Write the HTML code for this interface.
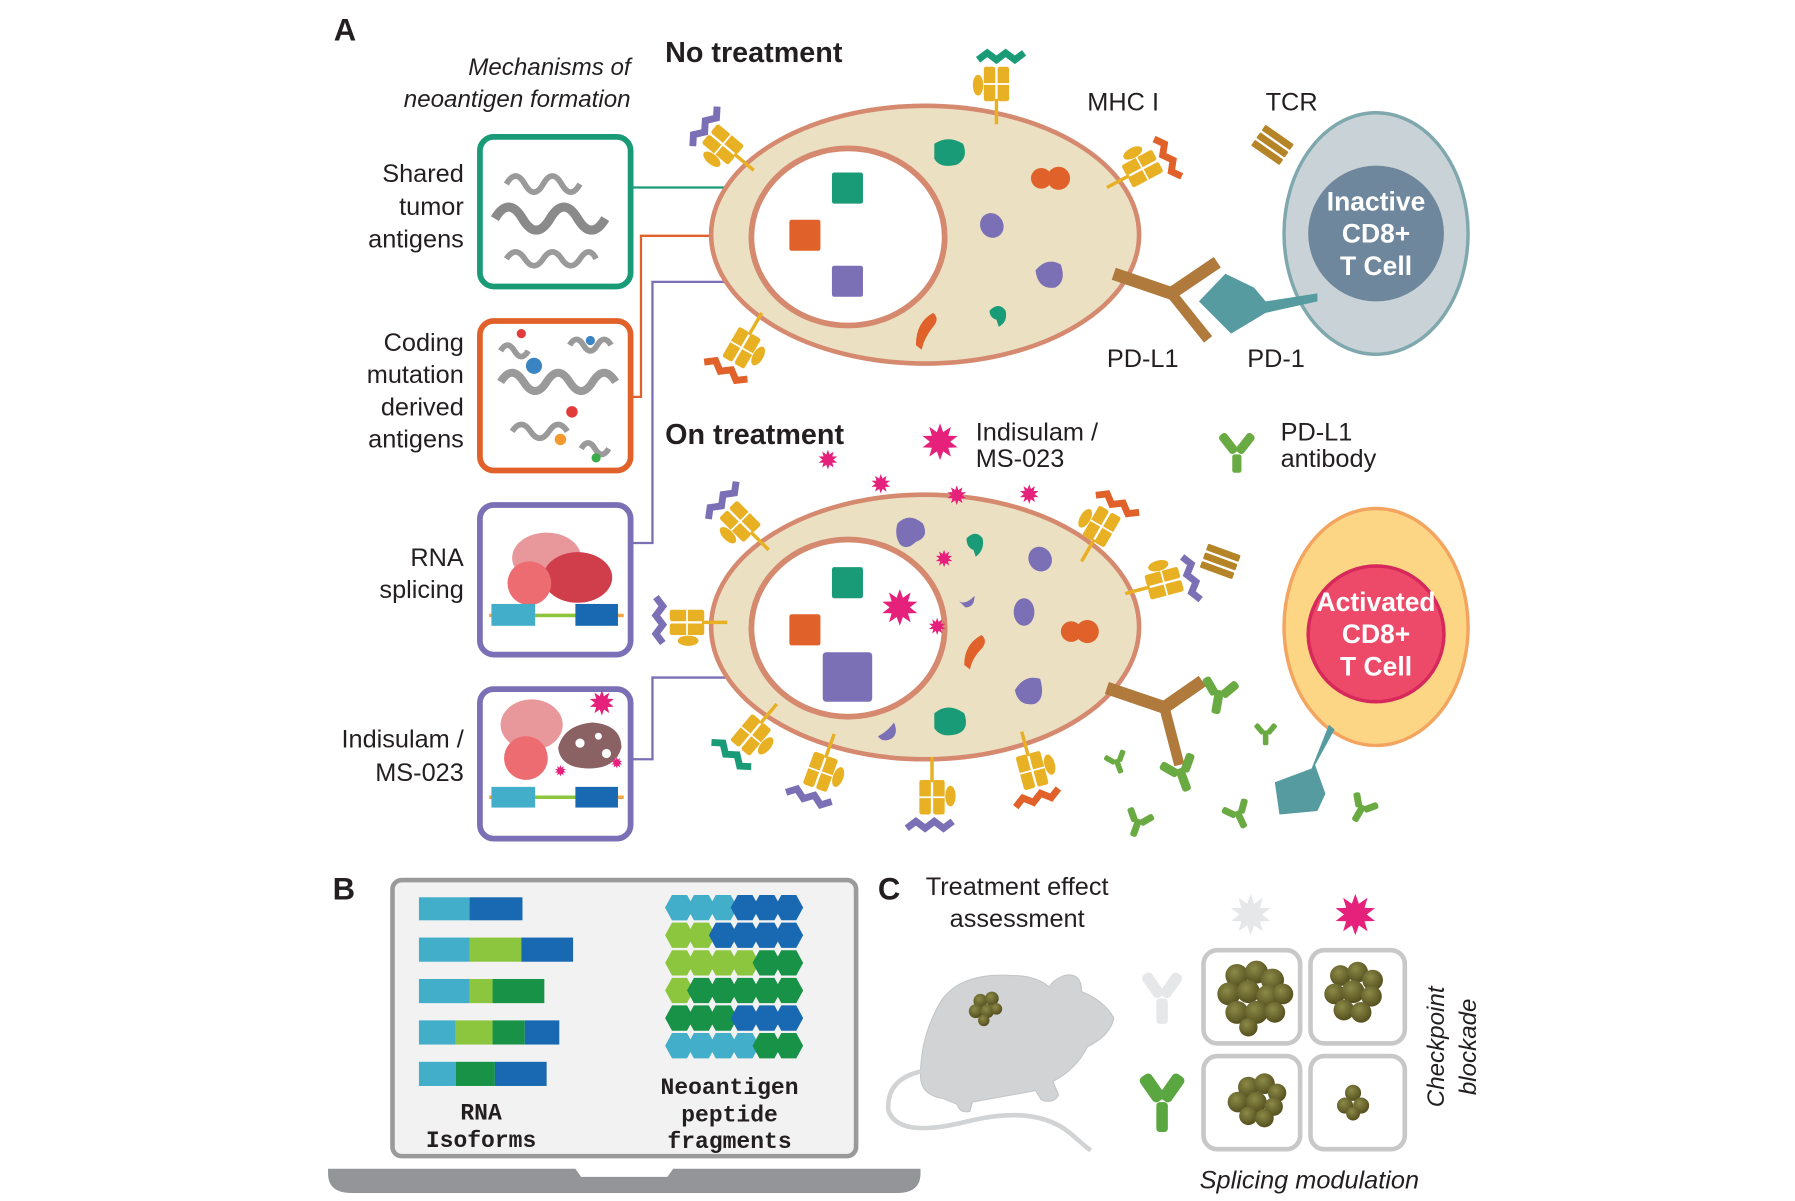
<!DOCTYPE html>
<html><head><meta charset="utf-8"><style>
html,body{margin:0;padding:0;background:#fff;}
svg{display:block;}
text{font-family:"Liberation Sans",Arial,sans-serif;fill:#231f20;}
.m{font-family:"Liberation Mono",monospace;font-weight:bold;}
</style></head><body>
<svg width="1795" height="1201" viewBox="0 0 1560 1044" xmlns="http://www.w3.org/2000/svg">
<defs>
<symbol id="star" viewBox="-1 -1 2 2"><polygon points="0,-1 .17,-.523 .588,-.809 .445,-.323 .951,-.309 .55,0 .951,.309 .445,.323 .588,.809 .17,.523 0,1 -.17,.523 -.588,.809 -.445,.323 -.951,.309 -.55,0 -.951,-.309 -.445,-.323 -.588,-.809 -.17,-.523"/></symbol>
<radialGradient id="tg" cx="40%" cy="35%" r="65%"><stop offset="0" stop-color="#8c8a48"/><stop offset="1" stop-color="#55501f"/></radialGradient>
<g id="mhc">
<line x1="0" y1="0" x2="0" y2="-22" stroke="#e8b023" stroke-width="3"/>
<rect x="-11" y="-50" width="10" height="30" rx="2" fill="#e8b023"/>
<rect x="1" y="-50" width="10" height="30" rx="2" fill="#e8b023"/>
<line x1="-11" y1="-35" x2="11" y2="-35" stroke="#fff" stroke-width="1.5"/>
<ellipse cx="-16" cy="-34" rx="4.5" ry="9" fill="#e8b023"/>
</g>
<g id="ab"><rect x="-3" y="0" width="6" height="16" rx="2"/><rect x="-3" y="-2" width="6" height="13" rx="2" transform="rotate(-40) translate(-4,-10)"/><rect x="-3" y="-2" width="6" height="13" rx="2" transform="rotate(40) translate(4,-10)"/></g>
<g id="tcr"><g fill="#b58426"><rect x="-3" y="-28" width="6" height="30" rx="1"/><rect x="5" y="-28" width="6" height="30" rx="1"/><rect x="13" y="-28" width="6" height="30" rx="1"/></g></g>
</defs>

<!-- Panel A labels -->
<text x="290" y="35" font-size="27" font-weight="bold">A</text>
<text x="548" y="65" font-size="21" font-style="italic" text-anchor="end">Mechanisms of</text>
<text x="548" y="93" font-size="21" font-style="italic" text-anchor="end">neoantigen formation</text>
<text x="578" y="54" font-size="25" font-weight="bold">No treatment</text>
<text x="578" y="386" font-size="25" font-weight="bold">On treatment</text>
<g font-size="22" text-anchor="end">
<text x="403" y="158">Shared</text><text x="403" y="187">tumor</text><text x="403" y="215">antigens</text>
<text x="403" y="305">Coding</text><text x="403" y="333">mutation</text><text x="403" y="361">derived</text><text x="403" y="389">antigens</text>
<text x="403" y="492">RNA</text><text x="403" y="520">splicing</text>
<text x="403" y="650">Indisulam /</text><text x="403" y="679">MS-023</text>
</g>

<!-- boxes -->
<rect x="417" y="119" width="131" height="130" rx="12" fill="#fff" stroke="#1a9b77" stroke-width="5"/>
<rect x="417" y="279" width="131" height="130" rx="12" fill="#fff" stroke="#e0622a" stroke-width="5"/>
<rect x="417" y="439" width="131" height="130" rx="12" fill="#fff" stroke="#7b6fb5" stroke-width="5"/>
<rect x="417" y="599" width="131" height="130" rx="12" fill="#fff" stroke="#7b6fb5" stroke-width="5"/>
<!-- DNA squiggles -->
<g fill="none" stroke="#9a9a9a" stroke-width="5">
<path d="M440,160 q8,-14 16,0 t16,0 t16,0 t16,0"/>
<path d="M430,190 q12,-20 24,0 t24,0 t24,0 t24,0" stroke-width="8" stroke="#8a8a8a"/>
<path d="M440,225 q8,-12 16,0 t16,0 t16,0 t16,0 t14,0"/>
<path d="M435,332 q10,-16 20,0 t20,0 t20,0 t20,0 t20,0" stroke-width="7"/>
<path d="M445,375 q8,-12 16,0 t16,0 t16,0"/>
<path d="M495,300 q6,-10 12,0 t12,0 t12,0"/>
<path d="M435,305 q6,-10 12,0 t12,0"/>
<path d="M505,390 q6,-10 12,0 t12,0"/>
</g>
<circle cx="464" cy="318" r="7" fill="#3b84c4"/><circle cx="497" cy="358" r="5" fill="#e23b3b"/><circle cx="487" cy="382" r="5" fill="#f29a2e"/><circle cx="453" cy="290" r="4" fill="#e23b3b"/><circle cx="513" cy="296" r="4" fill="#3b84c4"/><circle cx="518" cy="398" r="4" fill="#3bab49"/>
<!-- splicing illustrations -->
<ellipse cx="475" cy="485" rx="30" ry="22" fill="#e8979a"/>
<ellipse cx="502" cy="502" rx="30" ry="22" fill="#d03e4b"/>
<circle cx="460" cy="507" r="19" fill="#ec6c72"/>
<line x1="425" y1="535" x2="542" y2="535" stroke="#f2a541" stroke-width="3"/>
<line x1="465" y1="535" x2="500" y2="535" stroke="#8cc63f" stroke-width="3"/>
<rect x="427" y="525" width="38" height="19" fill="#42aec9"/><rect x="500" y="525" width="37" height="19" fill="#1869b1"/>
<ellipse cx="462" cy="630" rx="27" ry="22" fill="#e8979a"/>
<circle cx="457" cy="659" r="19" fill="#ec6c72"/>
<path d="M485,650 q5,-20 30,-22 q25,2 25,22 q-5,18 -28,18 q-25,0 -27,-18z" fill="#8a6264"/>
<circle cx="504" cy="646" r="4" fill="#fff"/><circle cx="520" cy="640" r="3" fill="#fff"/><circle cx="527" cy="655" r="4" fill="#fff"/>
<line x1="425" y1="693" x2="542" y2="693" stroke="#f2a541" stroke-width="3"/>
<line x1="465" y1="693" x2="500" y2="693" stroke="#8cc63f" stroke-width="3"/>
<rect x="427" y="684" width="38" height="18" fill="#42aec9"/><rect x="500" y="684" width="37" height="18" fill="#1869b1"/>
<g fill="#e5217c"><use href="#star" x="512" y="600" width="22" height="22"/><use href="#star" x="482" y="665" width="10" height="10"/><use href="#star" x="531" y="658" width="10" height="10"/></g>

<!-- connector lines -->
<g fill="none" stroke-width="2">
<path d="M549,163 H723" stroke="#1a9b77"/>
<path d="M549,345 H557 V205 H686" stroke="#e0622a"/>
<path d="M549,472 H567 V245 H723" stroke="#7b6fb5"/>
<path d="M549,660 H567 V589 H715" stroke="#7b6fb5"/>
</g>

<!-- Top cell -->
<ellipse cx="804" cy="204" rx="186" ry="112" fill="#ebe0c2" stroke="#d5896f" stroke-width="4"/>
<ellipse cx="737" cy="206" rx="84" ry="77" fill="#fff" stroke="#d5896f" stroke-width="5"/>
<rect x="723" y="150" width="27" height="27" rx="2" fill="#1a9b77"/>
<rect x="686" y="191" width="27" height="27" rx="2" fill="#e0622a"/>
<rect x="723" y="231" width="27" height="27" rx="2" fill="#7b6fb5"/>
<path d="M812,125 q12,-8 25,0 q5,12 -5,18 q-15,4 -20,-5z" fill="#1a9b77"/>
<circle cx="905" cy="155" r="9" fill="#e0622a"/><circle cx="920" cy="155" r="10" fill="#e0622a"/>
<ellipse cx="862" cy="196" rx="10" ry="11" fill="#7b6fb5" transform="rotate(-30 862 196)"/>
<path d="M900,235 q10,-12 22,-5 q5,15 -5,20 q-15,2 -17,-15z" fill="#7b6fb5"/>
<path d="M860,270 q8,-8 14,0 q2,10 -6,14 l-2,-6 q-6,-2 -6,-8z" fill="#1a9b77"/>
<path d="M796,300 q0,-20 15,-28 q6,5 0,12 q-8,10 -10,20z" fill="#e0622a"/>
<!-- MHC top cell -->
<g transform="translate(655,148) rotate(-50)"><use href="#mhc"/><polyline points="-18,-54 -10,-60 -2,-54 6,-60 14,-54 22,-60" fill="none" stroke="#7b6fb5" stroke-width="6"/></g>
<g transform="translate(866,108) rotate(0)"><use href="#mhc"/><polyline points="-16,-56 -8,-62 0,-56 8,-62 16,-56 24,-62" fill="none" stroke="#1a9b77" stroke-width="6"/></g>
<g transform="translate(962,163) rotate(62)"><use href="#mhc"/><polyline points="-18,-56 -10,-62 -2,-56 6,-62 14,-56 22,-62" fill="none" stroke="#e0622a" stroke-width="6"/></g>
<g transform="translate(662,272) rotate(-150)"><use href="#mhc"/><polyline points="-18,-56 -10,-62 -2,-56 6,-62 14,-56 22,-62" fill="none" stroke="#e0622a" stroke-width="6"/></g>
<g transform="translate(1112,140) rotate(-55)"><use href="#tcr"/></g>
<text x="945" y="96" font-size="22">MHC I</text>
<text x="1100" y="96" font-size="22">TCR</text>
<text x="962" y="319" font-size="22">PD-L1</text>
<text x="1084" y="319" font-size="22">PD-1</text>
<!-- PD-L1 -->
<path d="M968,238 L1018,255 L1058,228" fill="none" stroke="#b07a3c" stroke-width="11" stroke-linejoin="round"/>
<path d="M1018,255 L1050,295" stroke="#b07a3c" stroke-width="9"/>
<!-- Inactive T cell -->
<ellipse cx="1196" cy="203" rx="80" ry="105" fill="#c9d2d6" stroke="#7ea8ad" stroke-width="3"/>
<circle cx="1196" cy="203" r="59" fill="#6f879c"/>
<path d="M1042,262 L1065,238 L1090,250 L1100,262 L1145,255 L1145,262 L1100,272 L1070,290 Z" fill="#569ba0"/>
<g font-size="23" font-weight="bold" text-anchor="middle" style="fill:#fff"><text x="1196" y="183" style="fill:#fff">Inactive</text><text x="1196" y="211" style="fill:#fff">CD8+</text><text x="1196" y="239" style="fill:#fff">T Cell</text></g>

<!-- legend -->
<use href="#star" x="801" y="368" width="32" height="32" fill="#e5217c"/>
<text x="848" y="383" font-size="22">Indisulam /</text><text x="848" y="406" font-size="22">MS-023</text>
<g transform="translate(1075,395)" fill="#6aaa42"><rect x="-4" y="0" width="8" height="16" rx="2"/><rect x="-4" y="-22" width="8" height="20" rx="3" transform="rotate(-38)"/><rect x="-4" y="-22" width="8" height="20" rx="3" transform="rotate(38)"/></g>
<text x="1113" y="383" font-size="22">PD-L1</text><text x="1113" y="406" font-size="22">antibody</text>

<!-- Bottom cell -->
<ellipse cx="804" cy="545" rx="186" ry="115" fill="#ebe0c2" stroke="#d5896f" stroke-width="4"/>
<ellipse cx="737" cy="546" rx="84" ry="77" fill="#fff" stroke="#d5896f" stroke-width="5"/>
<rect x="723" y="493" width="27" height="27" rx="2" fill="#1a9b77"/>
<rect x="686" y="534" width="27" height="27" rx="2" fill="#e0622a"/>
<rect x="715" y="567" width="43" height="43" rx="3" fill="#7b6fb5"/>
<g fill="#e5217c">
<use href="#star" x="766" y="512" width="32" height="32"/><use href="#star" x="807" y="537" width="15" height="15"/>
<use href="#star" x="813" y="478" width="15" height="15"/>
<use href="#star" x="711" y="391" width="17" height="17"/><use href="#star" x="757" y="412" width="17" height="17"/><use href="#star" x="823" y="422" width="17" height="17"/><use href="#star" x="886" y="421" width="17" height="17"/>
</g>
<path d="M780,455 q10,-10 22,0 q6,12 -6,16 q-8,8 -14,2 q-5,-8 -2,-18z" fill="#7b6fb5"/>
<path d="M840,468 q8,-8 14,0 q2,10 -6,16 l-2,-6 q-6,-2 -6,-10z" fill="#1a9b77"/>
<ellipse cx="904" cy="486" rx="10" ry="11" fill="#7b6fb5" transform="rotate(-30 904 486)"/>
<path d="M833,522 q5,5 14,-4 q0,10 -8,10z" fill="#7b6fb5"/>
<ellipse cx="890" cy="532" rx="9" ry="12" fill="#7b6fb5"/>
<circle cx="931" cy="549" r="9" fill="#e0622a"/><circle cx="945" cy="549" r="10" fill="#e0622a"/>
<path d="M838,578 q0,-18 15,-26 q6,5 0,12 q-8,8 -10,18z" fill="#e0622a"/>
<path d="M882,600 q8,-14 22,-10 q5,18 -5,22 q-14,2 -17,-12z" fill="#7b6fb5"/>
<path d="M812,620 q12,-10 26,0 q5,14 -6,18 q-14,4 -20,-5z" fill="#1a9b77"/>
<path d="M763,640 q8,-4 14,-12 q4,10 -2,14 q-8,4 -12,-2z" fill="#7b6fb5"/>
<!-- MHC bottom -->
<g transform="translate(668,478) rotate(-45)"><use href="#mhc"/><polyline points="-18,-56 -10,-62 -2,-56 6,-62 14,-56 22,-62" fill="none" stroke="#7b6fb5" stroke-width="6"/></g>
<g transform="translate(940,488) rotate(30)"><use href="#mhc"/><polyline points="-18,-56 -10,-62 -2,-56 6,-62 14,-56 22,-62" fill="none" stroke="#e0622a" stroke-width="6"/></g>
<g transform="translate(632,541) rotate(-90)"><use href="#mhc"/><polyline points="-18,-56 -10,-62 -2,-56 6,-62 14,-56 22,-62" fill="none" stroke="#7b6fb5" stroke-width="6"/></g>
<g transform="translate(978,516) rotate(75)"><use href="#mhc"/><polyline points="-18,-56 -10,-62 -2,-56 6,-62 14,-56 22,-62" fill="none" stroke="#7b6fb5" stroke-width="6"/></g>
<g transform="translate(1070,500) rotate(-70)"><use href="#tcr"/></g>
<g transform="translate(675,612) rotate(-140)"><use href="#mhc"/><polyline points="-18,-56 -10,-62 -2,-56 6,-62 14,-56 22,-62" fill="none" stroke="#1a9b77" stroke-width="6"/></g>
<g transform="translate(725,638) rotate(-160)"><use href="#mhc"/><polyline points="-18,-56 -10,-62 -2,-56 6,-62 14,-56 22,-62" fill="none" stroke="#7b6fb5" stroke-width="6"/></g>
<g transform="translate(810,658) rotate(180)"><use href="#mhc"/><polyline points="-18,-56 -10,-62 -2,-56 6,-62 14,-56 22,-62" fill="none" stroke="#7b6fb5" stroke-width="6"/></g>
<g transform="translate(888,636) rotate(165)"><use href="#mhc"/><polyline points="-18,-56 -10,-62 -2,-56 6,-62 14,-56 22,-62" fill="none" stroke="#e0622a" stroke-width="6"/></g>
<!-- PD-L1 bottom -->
<path d="M962,598 L1012,615 L1045,592" fill="none" stroke="#b07a3c" stroke-width="11" stroke-linejoin="round"/>
<path d="M1012,615 L1025,665" stroke="#b07a3c" stroke-width="9"/>
<!-- Activated T cell -->
<ellipse cx="1196" cy="545" rx="80" ry="103" fill="#fdd685" stroke="#f3a560" stroke-width="3"/>
<circle cx="1196" cy="551" r="59" fill="#ec4a68" stroke="#d6285a" stroke-width="3"/>
<g font-size="23" font-weight="bold" text-anchor="middle"><text x="1196" y="531" style="fill:#fff">Activated</text><text x="1196" y="559" style="fill:#fff">CD8+</text><text x="1196" y="587" style="fill:#fff">T Cell</text></g>
<path d="M1160,634 L1143,665 L1152,690 L1145,705 L1112,708 L1108,680 L1140,668 L1155,630Z" fill="#569ba0"/>
<!-- antibodies -->
<g fill="#6aaa42">
<use href="#ab" transform="translate(1060,600) rotate(10) scale(1.3)"/>
<use href="#ab" transform="translate(1100,635) scale(0.8)"/>
<use href="#ab" transform="translate(970,660) rotate(-20) scale(0.8)"/>
<use href="#ab" transform="translate(1025,668) rotate(-20) scale(1.3)"/>
<use href="#ab" transform="translate(990,712) rotate(20) scale(1)"/>
<use href="#ab" transform="translate(1075,705) rotate(-25) scale(1)"/>
<use href="#ab" transform="translate(1185,700) rotate(30) scale(1)"/>
</g>

<!-- Panel B -->
<text x="289" y="782" font-size="27" font-weight="bold">B</text>
<rect x="341" y="765" width="403" height="240" rx="8" fill="#f2f2f2" stroke="#9a9a9a" stroke-width="4"/>
<path d="M285,1016 H500 L505,1023 H580 L585,1016 H800 V1020 Q800,1037 780,1037 H305 Q285,1037 285,1020Z" fill="#939598"/>
<g>
<rect x="364" y="780" width="44" height="20" fill="#42aec9"/><rect x="408" y="780" width="46" height="20" fill="#1869b1"/>
<rect x="364" y="815" width="44" height="21" fill="#42aec9"/><rect x="408" y="815" width="45" height="21" fill="#8cc63f"/><rect x="453" y="815" width="45" height="21" fill="#1869b1"/>
<rect x="364" y="851" width="44" height="21" fill="#42aec9"/><rect x="408" y="851" width="20" height="21" fill="#8cc63f"/><rect x="428" y="851" width="45" height="21" fill="#179247"/>
<rect x="364" y="887" width="32" height="21" fill="#42aec9"/><rect x="396" y="887" width="32" height="21" fill="#8cc63f"/><rect x="428" y="887" width="28" height="21" fill="#179247"/><rect x="456" y="887" width="30" height="21" fill="#1869b1"/>
<rect x="364" y="923" width="32" height="21" fill="#42aec9"/><rect x="396" y="923" width="34" height="21" fill="#179247"/><rect x="430" y="923" width="45" height="21" fill="#1869b1"/>
</g>
<g>
<g transform="translate(0,789)"><polygon points="578,0 584,-11 597,-11 603,0 597,11 584,11" fill="#42aec9"/></g>
</g>
<g id="hexes"></g>
<!-- hex rows built with rects of hex shape -->
<g>
<!-- row helper via paths -->
<path d="M578,789 l6,-11 h13 l6,11 l-6,11 h-13z M597,789 l6,-11 h13 l6,11 l-6,11 h-13z M616,789 l6,-11 h13 l6,11 l-6,11 h-13z" fill="#42aec9"/>
<path d="M635,789 l6,-11 h13 l6,11 l-6,11 h-13z M654,789 l6,-11 h13 l6,11 l-6,11 h-13z M673,789 l6,-11 h13 l6,11 l-6,11 h-13z" fill="#1869b1"/>
<path d="M578,813 l6,-11 h13 l6,11 l-6,11 h-13z M597,813 l6,-11 h13 l6,11 l-6,11 h-13z" fill="#8cc63f"/>
<path d="M616,813 l6,-11 h13 l6,11 l-6,11 h-13z M635,813 l6,-11 h13 l6,11 l-6,11 h-13z M654,813 l6,-11 h13 l6,11 l-6,11 h-13z M673,813 l6,-11 h13 l6,11 l-6,11 h-13z" fill="#1869b1"/>
<path d="M578,837 l6,-11 h13 l6,11 l-6,11 h-13z M597,837 l6,-11 h13 l6,11 l-6,11 h-13z M616,837 l6,-11 h13 l6,11 l-6,11 h-13z M635,837 l6,-11 h13 l6,11 l-6,11 h-13z" fill="#8cc63f"/>
<path d="M654,837 l6,-11 h13 l6,11 l-6,11 h-13z M673,837 l6,-11 h13 l6,11 l-6,11 h-13z" fill="#179247"/>
<path d="M578,861 l6,-11 h13 l6,11 l-6,11 h-13z" fill="#8cc63f"/>
<path d="M597,861 l6,-11 h13 l6,11 l-6,11 h-13z M616,861 l6,-11 h13 l6,11 l-6,11 h-13z M635,861 l6,-11 h13 l6,11 l-6,11 h-13z M654,861 l6,-11 h13 l6,11 l-6,11 h-13z M673,861 l6,-11 h13 l6,11 l-6,11 h-13z" fill="#179247"/>
<path d="M578,885 l6,-11 h13 l6,11 l-6,11 h-13z M597,885 l6,-11 h13 l6,11 l-6,11 h-13z M616,885 l6,-11 h13 l6,11 l-6,11 h-13z" fill="#179247"/>
<path d="M635,885 l6,-11 h13 l6,11 l-6,11 h-13z M654,885 l6,-11 h13 l6,11 l-6,11 h-13z M673,885 l6,-11 h13 l6,11 l-6,11 h-13z" fill="#1869b1"/>
<path d="M578,909 l6,-11 h13 l6,11 l-6,11 h-13z M597,909 l6,-11 h13 l6,11 l-6,11 h-13z M616,909 l6,-11 h13 l6,11 l-6,11 h-13z M635,909 l6,-11 h13 l6,11 l-6,11 h-13z" fill="#42aec9"/>
<path d="M654,909 l6,-11 h13 l6,11 l-6,11 h-13z M673,909 l6,-11 h13 l6,11 l-6,11 h-13z" fill="#179247"/>
</g>
<g font-size="20" text-anchor="middle">
<text class="m" x="418" y="973">RNA</text><text class="m" x="418" y="997">Isoforms</text>
<text class="m" x="634" y="951">Neoantigen</text><text class="m" x="634" y="975">peptide</text><text class="m" x="634" y="998">fragments</text>
</g>

<!-- Panel C -->
<text x="763" y="782" font-size="27" font-weight="bold">C</text>
<text x="884" y="778" font-size="22" text-anchor="middle">Treatment effect</text>
<text x="884" y="806" font-size="22" text-anchor="middle">assessment</text>
<!-- mouse -->
<path d="M968,885 Q960,870 940,862 Q940,845 925,848 Q915,852 912,858 Q900,848 880,848 Q835,845 818,870 Q800,900 800,935 Q800,952 820,955 L832,960 Q834,968 843,966 L845,958 L900,948 L905,956 Q915,960 920,952 L915,940 Q935,930 945,910 Q965,900 968,885Z" fill="#d1d3d4" stroke="#c4c6c8" stroke-width="1"/>
<path d="M808,930 Q770,935 772,965 Q780,990 840,975 Q900,960 930,985 Q945,998 948,1000" fill="none" stroke="#d1d3d4" stroke-width="4"/>
<g fill="url(#tg)"><circle cx="852" cy="870" r="6"/><circle cx="862" cy="868" r="6"/><circle cx="848" cy="879" r="6"/><circle cx="858" cy="879" r="6"/><circle cx="866" cy="877" r="5"/><circle cx="855" cy="887" r="5"/></g>
<use href="#star" x="1069" y="777" width="36" height="36" fill="#e6e7e8"/>
<use href="#star" x="1160" y="777" width="36" height="36" fill="#e5217c"/>
<g transform="translate(1010,868)" fill="#e6e7e8"><rect x="-5" y="0" width="10" height="22" rx="3"/><rect x="-5" y="-26" width="10" height="24" rx="4" transform="rotate(-35)"/><rect x="-5" y="-26" width="10" height="24" rx="4" transform="rotate(35)"/></g>
<g transform="translate(1010,958)" fill="#5aa640"><rect x="-5" y="0" width="10" height="26" rx="3"/><rect x="-6" y="-28" width="12" height="26" rx="4" transform="rotate(-35)"/><rect x="-6" y="-28" width="12" height="26" rx="4" transform="rotate(35)"/></g>
<g fill="#fff" stroke="#c8c8c8" stroke-width="4">
<rect x="1046" y="826" width="84" height="81" rx="12"/><rect x="1139" y="826" width="82" height="81" rx="12"/>
<rect x="1046" y="918" width="84" height="81" rx="12"/><rect x="1139" y="918" width="82" height="81" rx="12"/>
</g>
<g fill="url(#tg)">
<circle cx="1075" cy="848" r="10"/><circle cx="1092" cy="845" r="10"/><circle cx="1106" cy="852" r="10"/><circle cx="1068" cy="864" r="10"/><circle cx="1085" cy="862" r="10"/><circle cx="1102" cy="866" r="10"/><circle cx="1115" cy="864" r="9"/><circle cx="1075" cy="880" r="10"/><circle cx="1092" cy="880" r="10"/><circle cx="1108" cy="880" r="9"/><circle cx="1085" cy="893" r="8"/>
<circle cx="1165" cy="848" r="9"/><circle cx="1180" cy="845" r="9"/><circle cx="1193" cy="852" r="9"/><circle cx="1160" cy="864" r="9"/><circle cx="1176" cy="862" r="10"/><circle cx="1192" cy="866" r="9"/><circle cx="1168" cy="878" r="9"/><circle cx="1183" cy="880" r="9"/>
<circle cx="1085" cy="945" r="9"/><circle cx="1099" cy="942" r="9"/><circle cx="1110" cy="950" r="8"/><circle cx="1076" cy="958" r="9"/><circle cx="1092" cy="958" r="9"/><circle cx="1107" cy="962" r="8"/><circle cx="1085" cy="970" r="8"/><circle cx="1099" cy="972" r="8"/>
<circle cx="1176" cy="950" r="7"/><circle cx="1169" cy="961" r="7"/><circle cx="1183" cy="961" r="7"/><circle cx="1176" cy="968" r="6"/>
</g>
<text transform="translate(1255,910) rotate(-90)" font-size="21" font-style="italic" text-anchor="middle">Checkpoint</text>
<text transform="translate(1283,910) rotate(-90)" font-size="21" font-style="italic" text-anchor="middle">blockade</text>
<text x="1138" y="1033" font-size="22" font-style="italic" text-anchor="middle">Splicing modulation</text>
</svg>
</body></html>
